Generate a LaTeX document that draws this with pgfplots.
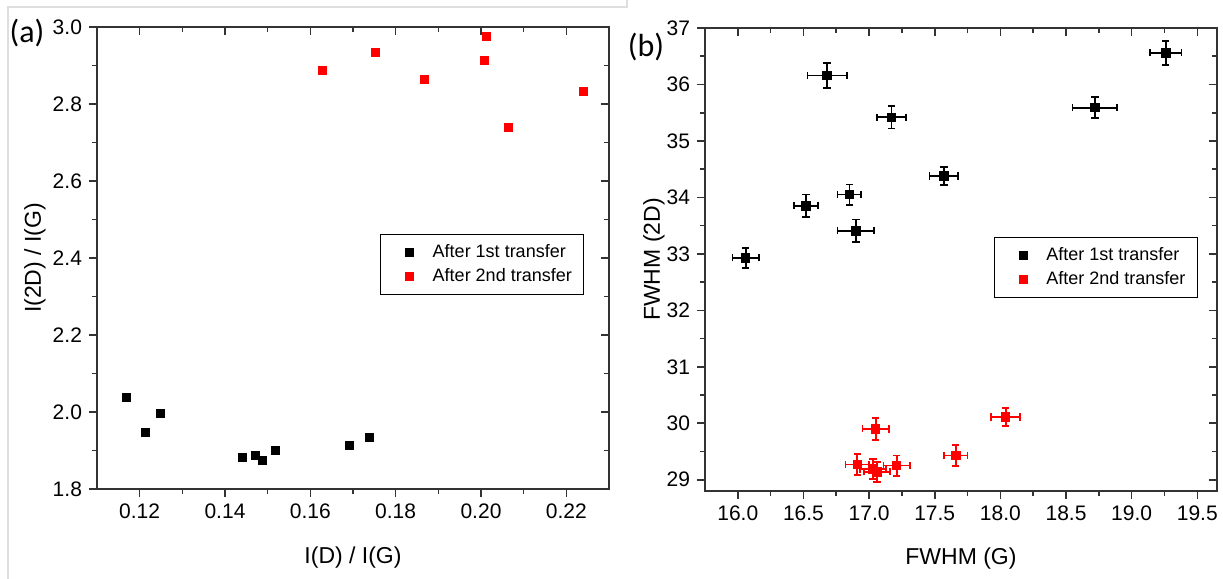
\documentclass[border=0pt]{standalone}
\usepackage{fontspec}
\setmainfont{Liberation Sans}
\newfontfamily\calibri{Carlito}
\usepackage{pgfplots}
\pgfplotsset{compat=1.18}

% shared look of both panels (1 px of the reference = 0.5pt)
\pgfplotsset{
  panel/.style={
    scale only axis,
    axis line style={black!80, line width=0.8pt},
    every tick/.style={black!80, line width=0.8pt},
    major tick length=4pt, minor tick length=2.5pt,
    minor tick num=1,
    /pgf/number format/assume math mode=true,
    ticklabel style={font=\fontsize{10.5}{12}\selectfont},
    label style={font=\fontsize{11.5}{13}\selectfont},
  },
  outer/.style={panel, tick align=outside, xtick pos=bottom, ytick pos=left},
  inner/.style={panel, tick align=inside, xtick pos=top, ytick pos=right,
    xticklabels={}, yticklabels={}},
  leg/.style={
    legend style={at={(axis description cs:#1)}, anchor=north west,
      draw=black, line width=0.6pt, inner xsep=4pt, inner ysep=3pt,
      font=\fontsize{9}{10.5}\selectfont, cells={anchor=west}, row sep=0pt},
    legend image code/.code={\path[draw=none] (0pt,0pt) -- (20pt,0pt);
      \draw[##1, draw=none] plot coordinates {(10.5pt,0pt)};}},
  leftpanel/.style={at={(48.5pt,-244.5pt)}, anchor=south west,
    width=256pt, height=231pt,
    xmin=0.11, xmax=0.23, ymin=1.8, ymax=3.0,
    xtick={0.12,0.14,0.16,0.18,0.20,0.22},
    ytick={1.8,2.0,2.2,2.4,2.6,2.8,3.0},
    xticklabel style={/pgf/number format/.cd, fixed, fixed zerofill, precision=2},
    yticklabel style={/pgf/number format/.cd, fixed, fixed zerofill, precision=1}},
  rightpanel/.style={at={(352.5pt,-245.5pt)}, anchor=south west,
    width=256pt, height=231.5pt,
    xmin=15.75, xmax=19.65, ymin=28.8, ymax=37,
    xtick={16,16.5,17,17.5,18,18.5,19,19.5},
    ytick={29,30,31,32,33,34,35,36,37},
    xticklabel style={/pgf/number format/.cd, fixed, fixed zerofill, precision=1}},
  ebars/.style={only marks, mark=square*, mark size=2.1pt, forget plot,
    error bars/.cd, x dir=both, x explicit, y dir=both, y explicit,
    error bar style={line width=0.9pt},
    error mark options={rotate=90, line width=0.9pt, mark size=1.8pt}},
}

\begin{document}
\begin{tikzpicture}
\useasboundingbox (0,0) rectangle (611.5pt,-289.5pt);
\draw[black!13, line width=0.8pt] (313.5pt,0pt) -- (313.5pt,-3.5pt) -- (4pt,-3.5pt) -- (4pt,-289.5pt);

% ---------------- (a) ----------------
\begin{axis}[outer, leftpanel, leg={0.553,0.553},
  xlabel={I(D) / I(G)}, ylabel={I(2D) / I(G)},
  xlabel style={at={(axis description cs:0.5,-0.149)}, anchor=center},
  ylabel style={at={(axis description cs:-0.121,0.5)}, anchor=center},
]
\addplot[only marks, mark=square*, mark size=2pt, black] table {
x y
0.1170 2.038
0.1214 1.946
0.1249 1.997
0.1440 1.882
0.1472 1.886
0.1487 1.875
0.1517 1.900
0.1692 1.912
0.1739 1.934
};
\addlegendentry{After 1st transfer}
\addplot[only marks, mark=square*, mark size=2pt, red] table {
x y
0.1628 2.886
0.1753 2.934
0.1868 2.863
0.2013 2.975
0.2008 2.914
0.2065 2.739
0.2241 2.832
};
\addlegendentry{After 2nd transfer}
\end{axis}
\begin{axis}[inner, leftpanel]
\end{axis}

% ---------------- (b) ----------------
\begin{axis}[outer, rightpanel, leg={0.564,0.549},
  xlabel={FWHM (G)}, ylabel={FWHM (2D)},
  xlabel style={at={(axis description cs:0.5,-0.145)}, anchor=center},
  ylabel style={at={(axis description cs:-0.10,0.5)}, anchor=center},
]
\addplot[black, ebars] table[x=x, y=y, x error=ex, y error=ey] {
x y ex ey
16.06 32.93 0.10 0.18
16.68 36.16 0.15 0.22
17.17 35.42 0.11 0.20
17.57 34.38 0.11 0.16
16.52 33.85 0.09 0.20
16.85 34.05 0.09 0.18
16.90 33.41 0.14 0.20
18.72 35.59 0.17 0.19
19.26 36.56 0.12 0.21
};
\addplot[red, ebars] table[x=x, y=y, x error=ex, y error=ey] {
x y ex ey
17.05 29.90 0.10 0.20
18.04 30.11 0.11 0.16
17.66 29.43 0.09 0.19
16.91 29.27 0.09 0.19
17.21 29.25 0.10 0.18
17.03 29.19 0.10 0.18
17.06 29.14 0.10 0.18
};
\addlegendimage{only marks, mark=square*, mark size=2pt, black}
\addlegendentry{After 1st transfer}
\addlegendimage{only marks, mark=square*, mark size=2pt, red}
\addlegendentry{After 2nd transfer}
\end{axis}
\begin{axis}[inner, rightpanel]
\end{axis}

\node[font=\calibri\fontsize{16}{18}\selectfont] at (13.5pt,-16.5pt) {(a)};
\node[font=\calibri\fontsize{16}{18}\selectfont] at (323pt,-23.5pt) {(b)};
\end{tikzpicture}
\end{document}
